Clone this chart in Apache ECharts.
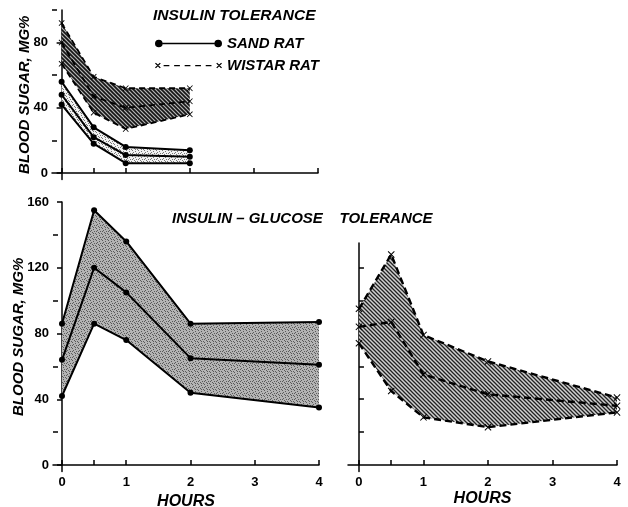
<!DOCTYPE html>
<html><head><meta charset="utf-8">
<script src="https://cdn.jsdelivr.net/npm/echarts@6/dist/echarts.min.js"></script>
<style>html,body{margin:0;padding:0;background:#fff}#c{width:628px;height:507px}</style>
</head><body><div id="c"></div>
<script>
// ---- data ----
const hoursTop = [0, 0.5, 1, 2];
const hoursBottom = [0, 0.5, 1, 2, 4];
// Insulin tolerance (top panel)
const itSandUpper = [56, 28, 16, 14];
const itSandMean = [48, 22, 11, 10];
const itSandLower = [42, 18, 6, 6];
const itWistarUpper = [92, 59, 52, 52];
const itWistarMean = [80, 47, 40, 44];
const itWistarLower = [67, 37, 27, 36];
// Insulin-glucose tolerance (bottom panels)
const igSandUpper = [86, 155, 136, 86, 87];
const igSandMean = [64, 120, 105, 65, 61];
const igSandLower = [42, 86, 76, 44, 35];
const igWistarUpper = [95, 128, 79, 63, 41];
const igWistarMean = [84, 87, 55, 43, 36];
const igWistarLower = [74, 45, 29, 23, 32];
// ticks
const hourTicks = [0, 0.5, 1, 2, 3, 4];
const hourLabels = [0, 1, 2, 3, 4];
const topMajorTicks = [0, 40, 80];
const topMinorTicks = [20, 60, 100];
const bottomMajorTicks = [0, 40, 80, 120, 160];
const bottomMinorTicks = [20, 60, 100, 140];
const rightTicks = [20, 40, 60, 80, 100, 120];

// ---- styles ----
const FONT = 'Liberation Sans';
function hatch(bg, fg, size, lw) {
  const c = document.createElement('canvas');
  c.width = size; c.height = size;
  const g = c.getContext('2d');
  g.fillStyle = bg; g.fillRect(0, 0, size, size);
  g.strokeStyle = fg; g.lineWidth = lw;
  g.beginPath();
  g.moveTo(-1, -1); g.lineTo(size + 1, size + 1);
  g.moveTo(-1, size - 1); g.lineTo(1, size + 1);
  g.moveTo(size - 1, -1); g.lineTo(size + 1, 1);
  g.stroke();
  return { image: c, repeat: 'repeat' };
}
function stipple(bg, fg, dots, size) {
  const c = document.createElement('canvas');
  c.width = size; c.height = size;
  const g = c.getContext('2d');
  g.fillStyle = bg; g.fillRect(0, 0, size, size);
  g.fillStyle = fg;
  dots.forEach(p => g.fillRect(p[0], p[1], 1, 1));
  return { image: c, repeat: 'repeat' };
}
const dotsA = [[0,0],[3,1],[1,2],[4,3],[2,4],[5,5],[0,3],[3,5]];
const crossSym = 'path://M0,1L1,0L5,4L9,0L10,1L6,5L10,9L9,10L5,6L1,10L0,9L4,5Z';
const sandIcon = 'path://M0,5A4,4 0 1,1 8,5A4,4 0 1,1 0,5Z M8,4.2L62,4.2L62,5.8L8,5.8Z M62,5A4,4 0 1,1 70,5A4,4 0 1,1 62,5Z';
const wistarIcon = 'path://M0,2L1,1L6,6L5,7Z M5,1L6,2L1,7L0,6Z M9,3.6L15,3.6L15,4.8L9,4.8Z M20,3.6L26,3.6L26,4.8L20,4.8Z M31,3.6L37,3.6L37,4.8L31,4.8Z M42,3.6L48,3.6L48,4.8L42,4.8Z M53,3.6L59,3.6L59,4.8L53,4.8Z M64,2L65,1L70,6L69,7Z M69,1L70,2L65,7L64,6Z';

const pair = (xs, ys) => xs.map((x, i) => [x, ys[i]]);

function group(prefix, ax, xs, lower, mean, upper, opt) {
  const line = (name, ys, z) => ({
    type: 'line', name: name, xAxisIndex: ax[0], yAxisIndex: ax[1],
    data: pair(xs, ys), z: z,
    smooth: opt.smooth, symbol: opt.symbol, symbolSize: opt.symbolSize,
    itemStyle: { color: '#000' },
    lineStyle: { color: '#000', width: opt.width, type: opt.dash },
    emphasis: { disabled: true }, animation: false
  });
  const band = {
    type: 'custom', name: prefix + ' band', xAxisIndex: ax[0], yAxisIndex: ax[1],
    data: xs.map((x, i) => [x, lower[i], upper[i]]),
    encode: { x: 0, y: [1, 2] }, z: 2, silent: true, animation: false,
    renderItem: function (params, api) {
      if (params.dataIndex !== 0) return null;
      const top = xs.map((x, i) => api.coord([x, upper[i]]));
      const bot = xs.map((x, i) => api.coord([x, lower[i]])).reverse();
      return { type: 'polygon', shape: { points: top.concat(bot) },
        style: { fill: opt.fill, stroke: null } };
    }
  };
  return [band, line(prefix + ' lower', lower, 3), line(prefix + ' upper', upper, 3),
    line(opt.meanName || (prefix + ' mean'), mean, 4)];
}

const labelStyle = { color: '#000', fontFamily: FONT, fontWeight: 'bold', fontSize: 13 };
const nameStyle = { color: '#000', fontFamily: FONT, fontWeight: 'bold', fontStyle: 'italic', fontSize: 15 };
const axLine = { show: true, lineStyle: { color: '#000', width: 1.5 } };

function xAxis(grid, min, showLabels) {
  return {
    type: 'value', gridIndex: grid, min: min, max: 4,
    axisLine: axLine, splitLine: { show: false },
    axisTick: { show: true, inside: true, length: 5, customValues: hourTicks, lineStyle: { color: '#000', width: 1.5 } },
    axisLabel: showLabels ? Object.assign({ show: true, margin: 4, customValues: hourLabels }, labelStyle) : { show: false },
    name: showLabels ? 'HOURS' : '', nameLocation: 'middle', nameGap: 19,
    nameTextStyle: Object.assign({}, nameStyle, { fontSize: 16 })
  };
}
function yMajor(grid, max, ticks, name, gap) {
  return {
    type: 'value', gridIndex: grid, min: -4, max: max, position: 'left',
    axisLine: axLine, splitLine: { show: false },
    axisTick: { show: true, inside: false, length: 5, customValues: ticks, lineStyle: { color: '#000', width: 1.5 } },
    axisLabel: Object.assign({ show: true, margin: 4, customValues: ticks }, labelStyle),
    name: name, nameLocation: 'middle', nameRotate: 90, nameGap: gap, nameMoveOverlap: false,
    nameTextStyle: nameStyle
  };
}
function yMinor(grid, max, ticks, showLine) {
  return {
    type: 'value', gridIndex: grid, min: -4, max: max, position: 'left',
    axisLine: showLine ? axLine : { show: false }, splitLine: { show: false },
    axisTick: { show: true, inside: true, length: 5, customValues: ticks, lineStyle: { color: '#000', width: 1.5 } },
    axisLabel: { show: false }
  };
}

const chart = echarts.init(document.getElementById('c'), null, { renderer: 'canvas' });
chart.setOption({
  backgroundColor: '#fff',
  animation: false,
  title: [
    { text: 'INSULIN TOLERANCE', left: 153, top: 8, padding: 0,
      textStyle: Object.assign({}, nameStyle, { fontSize: 15.5 }) },
    { text: 'INSULIN – GLUCOSE    TOLERANCE', left: 172, top: 211, padding: 0,
      textStyle: Object.assign({}, nameStyle, { fontSize: 15 }) }
  ],
  legend: {
    left: 155, top: 36, orient: 'vertical', padding: 0,
    itemWidth: 67, itemHeight: 8, itemGap: 7,
    textStyle: Object.assign({}, nameStyle, { fontSize: 15 }),
    selectedMode: false,
    data: [
      { name: 'SAND RAT', icon: sandIcon, itemStyle: { color: '#000' } },
      { name: 'WISTAR RAT', icon: wistarIcon, itemStyle: { color: '#000' } }
    ]
  },
  grid: [
    { left: 52, top: 10, width: 266, height: 169.5, outerBoundsMode: 'none', containLabel: false },
    { left: 53, top: 202, width: 266, height: 269.6, outerBoundsMode: 'none', containLabel: false },
    { left: 348, top: 243, width: 269, height: 228.6, outerBoundsMode: 'none', containLabel: false }
  ],
  xAxis: [xAxis(0, -0.15, false), xAxis(1, -0.14, true), xAxis(2, -0.17, true)],
  yAxis: [
    yMajor(0, 100, topMajorTicks, 'BLOOD SUGAR, MG%', 20),
    yMinor(0, 100, topMinorTicks, false),
    yMajor(1, 160, bottomMajorTicks, 'BLOOD SUGAR, MG%', 27),
    yMinor(1, 160, bottomMinorTicks, false),
    yMinor(2, 135, rightTicks, true)
  ],
  series: [].concat(
    group('itW', [0, 0], hoursTop, itWistarLower, itWistarMean, itWistarUpper,
      { smooth: false, symbol: crossSym, symbolSize: 6, width: 1.8, dash: [6, 4], fill: hatch('#b5b5b5', '#151515', 4, 1.6), meanName: 'WISTAR RAT' }),
    group('itS', [0, 0], hoursTop, itSandLower, itSandMean, itSandUpper,
      { smooth: false, symbol: 'circle', symbolSize: 6, width: 2, dash: 'solid', fill: stipple('#f2f2f2', '#777', dotsA, 6), meanName: 'SAND RAT' }),
    group('igS', [1, 2], hoursBottom, igSandLower, igSandMean, igSandUpper,
      { smooth: false, symbol: 'circle', symbolSize: 6, width: 2, dash: 'solid', fill: stipple('#b4b4b4', '#5a5a5a', dotsA, 6) }),
    group('igW', [2, 4], hoursBottom, igWistarLower, igWistarMean, igWistarUpper,
      { smooth: false, symbol: crossSym, symbolSize: 7, width: 2.4, dash: [7, 4], fill: hatch('#d0d0d0', '#222', 4, 1.3) })
  )
});
</script></body></html>
